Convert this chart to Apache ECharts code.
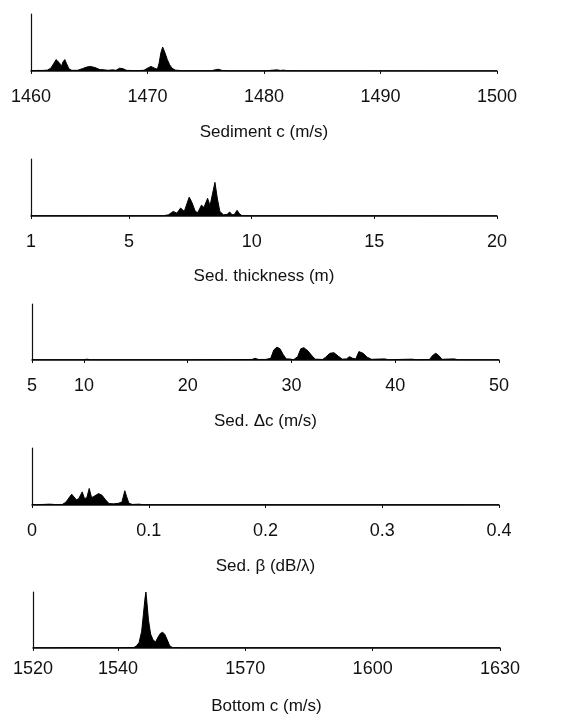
<!DOCTYPE html>
<html>
<head>
<meta charset="utf-8">
<script src="https://cdn.jsdelivr.net/npm/echarts@6/dist/echarts.min.js"></script>
<style>
html,body{margin:0;padding:0;background:#fff;}
#chart{width:573px;height:720px;}
</style>
</head>
<body>
<div id="chart"></div>
<script>
// ---- Data (relative probability density) ----
const sedCX = [1460,1460.5,1461,1461.4,1461.7,1461.95,1462.15,1462.3,1462.45,1462.6,1462.75,1462.9,1463.05,1463.25,1463.5,1464,1464.4,1464.8,1465.1,1465.5,1465.9,1466.3,1466.6,1467,1467.3,1467.6,1467.9,1468.2,1469,1469.7,1470.0,1470.3,1470.6,1470.85,1471.0,1471.15,1471.3,1471.5,1471.7,1471.9,1472.1,1472.4,1473,1475.5,1475.8,1476.1,1476.4,1477,1480,1480.8,1481.1,1481.4,1481.7,1482,1485,1500];
const sedCY = [0.005,0.01,0.01,0.015,0.05,0.13,0.2,0.21,0.14,0.08,0.16,0.2,0.13,0.04,0.012,0.012,0.04,0.07,0.08,0.06,0.025,0.02,0.012,0.02,0.012,0.05,0.04,0.012,0.006,0.012,0.05,0.08,0.05,0.03,0.14,0.32,0.42,0.32,0.2,0.11,0.05,0.015,0.005,0.005,0.02,0.03,0.01,0.003,0.003,0.015,0.02,0.01,0.015,0.005,0.003,0.003];

const thickX = [1,3,6.4,6.6,6.8,6.95,7.1,7.25,7.45,7.55,7.7,7.8,7.95,8.05,8.2,8.3,8.38,8.5,8.6,8.7,8.85,9.0,9.1,9.2,9.3,9.4,9.5,9.6,10,13,20];
const thickY = [0.005,0.005,0.005,0.02,0.08,0.05,0.14,0.08,0.33,0.25,0.08,0.06,0.19,0.15,0.31,0.18,0.15,0.59,0.3,0.08,0.02,0.03,0.07,0.02,0.03,0.1,0.04,0.005,0.005,0.005,0.003];

const dcX = [5,10,10.3,10.6,20,25,26.2,26.5,26.8,27.5,28.0,28.3,28.6,28.9,29.2,29.5,29.8,30.2,30.6,30.9,31.2,31.6,32.0,32.3,33.0,33.3,33.7,34.1,34.5,34.9,35.3,35.6,35.9,36.2,36.5,36.9,37.3,37.7,39,39.3,41.6,42,43.3,43.6,43.9,44.2,44.5,45.7,46,50];
const dcY = [0.005,0.005,0.015,0.005,0.005,0.008,0.01,0.03,0.01,0.01,0.03,0.18,0.23,0.2,0.1,0.02,0.02,0.005,0.06,0.2,0.22,0.16,0.07,0.015,0.01,0.05,0.12,0.13,0.07,0.015,0.02,0.06,0.03,0.02,0.15,0.12,0.05,0.012,0.02,0.005,0.015,0.005,0.01,0.08,0.12,0.08,0.012,0.02,0.005,0.005];

const betaX = [0,0.01,0.015,0.02,0.026,0.029,0.034,0.038,0.040,0.043,0.045,0.047,0.049,0.051,0.053,0.057,0.060,0.063,0.066,0.070,0.074,0.077,0.0795,0.081,0.083,0.086,0.092,0.095,0.12,0.4];
const betaY = [0.005,0.01,0.015,0.008,0.01,0.05,0.19,0.09,0.11,0.23,0.11,0.13,0.29,0.13,0.15,0.2,0.17,0.09,0.025,0.02,0.03,0.05,0.25,0.15,0.03,0.01,0.015,0.005,0.005,0.005];

const botCX = [1520,1525,1530,1540,1543.8,1544.4,1545,1545.6,1546.0,1546.4,1546.6,1546.85,1547.2,1547.7,1548.3,1548.9,1549.5,1550.0,1550.5,1551.0,1551.6,1552.2,1552.8,1555,1630];
const botCY = [0.005,0.005,0.008,0.005,0.01,0.04,0.1,0.3,0.6,0.9,1.0,0.8,0.5,0.25,0.14,0.11,0.2,0.26,0.28,0.25,0.15,0.04,0.01,0.005,0.005];

// ---- Axis ranges and tick labels ----
const panelNames = ['Sediment c (m/s)','Sed. thickness (m)','Sed. \u0394c (m/s)','Sed. \u03b2 (dB/\u03bb)','Bottom c (m/s)'];
const ticks1 = [1460,1470,1480,1490,1500];
const ticks2 = [1,5,10,15,20];
const ticks3 = [5,10,20,30,40,50];
const ticks4 = [0,0.1,0.2,0.3,0.4];
const ticks5 = [1520,1540,1570,1600,1630];

const panels = [
  {x: sedCX, y: sedCY, ticks: ticks1},
  {x: thickX, y: thickY, ticks: ticks2},
  {x: dcX, y: dcY, ticks: ticks3},
  {x: betaX, y: betaY, ticks: ticks4},
  {x: botCX, y: botCY, ticks: ticks5}
];

const grids = [
  {left: 31, right: 76, top: 14, height: 57},
  {left: 31, right: 76, top: 159, height: 57},
  {left: 32, right: 74, top: 304, height: 56},
  {left: 32, right: 74, top: 448, height: 57},
  {left: 33, right: 73, top: 592, height: 56}
];
const labelMargins = [17, 17, 17, 17, 12];
const nameGaps = [53, 52, 53, 53, 50];

const font = '"Liberation Sans", Arial, Helvetica, sans-serif';
const ink = '#111';

const option = {
  backgroundColor: '#fff',
  animation: false,
  grid: grids,
  xAxis: panels.map((p, i) => ({
    type: 'value',
    gridIndex: i,
    min: p.ticks[0],
    max: p.ticks[p.ticks.length - 1],
    name: panelNames[i],
    nameLocation: 'middle',
    nameGap: nameGaps[i],
    nameTextStyle: {fontFamily: font, fontSize: 17, color: ink},
    axisLine: {show: true, lineStyle: {color: ink, width: 1.5}},
    axisTick: {show: true, inside: false, length: 3, customValues: p.ticks, lineStyle: {color: ink, width: 1}},
    axisLabel: {show: true, customValues: p.ticks, margin: labelMargins[i], fontFamily: font, fontSize: 18, color: ink,
      formatter: v => String(v)},
    splitLine: {show: false}
  })),
  yAxis: panels.map((p, i) => ({
    type: 'value',
    gridIndex: i,
    min: 0,
    max: 1,
    axisLine: {show: true, lineStyle: {color: ink, width: 1.2}},
    axisTick: {show: false},
    axisLabel: {show: false},
    splitLine: {show: false}
  })),
  series: panels.map((p, i) => ({
    type: 'line',
    xAxisIndex: i,
    yAxisIndex: i,
    data: p.x.map((v, k) => [v, p.y[k]]),
    symbol: 'none',
    lineStyle: {color: '#000', width: 1},
    areaStyle: {color: '#000', opacity: 1},
    silent: true
  }))
};

const chart = echarts.init(document.getElementById('chart'), null, {renderer: 'canvas'});
chart.setOption(option);
</script>
</body>
</html>
